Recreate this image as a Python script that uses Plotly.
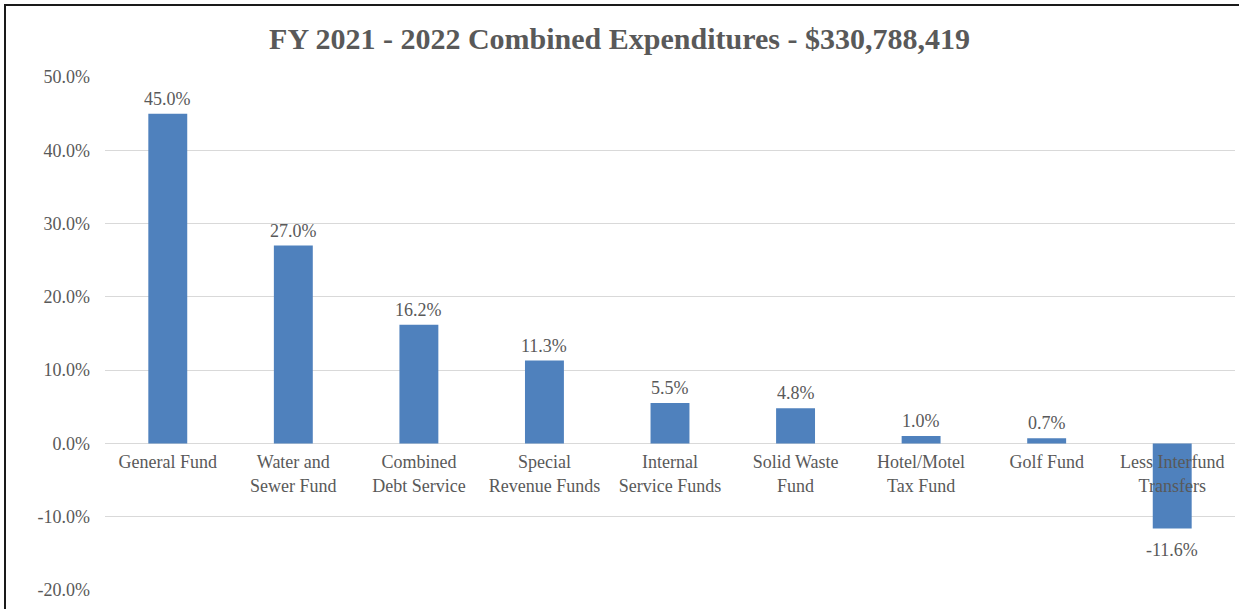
import plotly.graph_objects as go

# Fund categories (line breaks as shown under the axis)
categories = [
    "General Fund",
    "Water and<br>Sewer Fund",
    "Combined<br>Debt Service",
    "Special<br>Revenue Funds",
    "Internal<br>Service Funds",
    "Solid Waste<br>Fund",
    "Hotel/Motel<br>Tax Fund",
    "Golf Fund",
    "Less Interfund<br>Transfers",
]
# Share of combined expenditures, percent
shares = [45.0, 27.0, 16.2, 11.3, 5.5, 4.8, 1.0, 0.7, -11.6]
y_ticks = [-20, -10, 0, 10, 20, 30, 40, 50]

title_text = "FY 2021 - 2022 Combined Expenditures - $330,788,419"

W, H = 1239, 609
M_L, M_R, M_T, M_B = 105, 4, 77, 19
plot_w = W - M_L - M_R
plot_h = H - M_T - M_B

Y_MIN, Y_MAX = -20, 50

text_color = "#595959"
grid_color = "#D9D9D9"
bar_color = "#4F81BD"
serif = "Liberation Serif, Times New Roman, serif"

fig = go.Figure(
    go.Bar(
        x=categories,
        y=shares,
        marker=dict(color=bar_color, line=dict(width=0)),
        width=0.31,
        hoverinfo="x+y",
    )
)

# Value labels above positive bars, below negative ones
for cat, v in zip(categories, shares):
    fig.add_annotation(
        x=cat,
        y=v,
        xref="x",
        yref="y",
        text=f"{v:.1f}%",
        showarrow=False,
        yanchor="bottom" if v >= 0 else "top",
        yshift=3 if v >= 0 else -10,
        font=dict(family=serif, size=18, color=text_color),
    )

fig.update_layout(
    width=W,
    height=H,
    margin=dict(l=M_L, r=M_R, t=M_T, b=M_B, pad=0),
    paper_bgcolor="white",
    plot_bgcolor="white",
    showlegend=False,
    font=dict(family=serif, color=text_color),
    title=dict(
        text=f"<b>{title_text}</b>",
        x=0.5,
        xref="container",
        xanchor="center",
        y=1 - 38 / H,
        yref="container",
        yanchor="middle",
        font=dict(family=serif, size=30, color=text_color),
    ),
)

# Category axis sits on the zero line
fig.update_xaxes(
    anchor="free",
    position=(0 - Y_MIN) / (Y_MAX - Y_MIN),
    showline=False,
    showgrid=False,
    ticks="",
    tickfont=dict(family=serif, size=18, color=text_color),
    ticklabelstandoff=6,
)

fig.update_yaxes(
    range=[Y_MIN, Y_MAX],
    tickvals=y_ticks,
    ticktext=[f"{v:.1f}%" for v in y_ticks],
    showgrid=True,
    gridcolor=grid_color,
    gridwidth=1,
    zeroline=True,
    zerolinecolor=grid_color,
    zerolinewidth=1,
    showline=False,
    ticks="",
    ticklabelstandoff=14,
    tickfont=dict(family=serif, size=18, color=text_color),
)

# Dark frame along the page's left and top edges
fig.add_shape(
    type="rect",
    xref="paper",
    yref="paper",
    x0=(5 - M_L) / plot_w,
    x1=(W + 20 - M_L) / plot_w,
    y0=-(H + 20 - (M_T + plot_h)) / plot_h,
    y1=1 + (M_T - 5) / plot_h,
    line=dict(color="#1a1a1a", width=2),
    fillcolor="rgba(0,0,0,0)",
    layer="above",
)

fig.write_html("out.html")
